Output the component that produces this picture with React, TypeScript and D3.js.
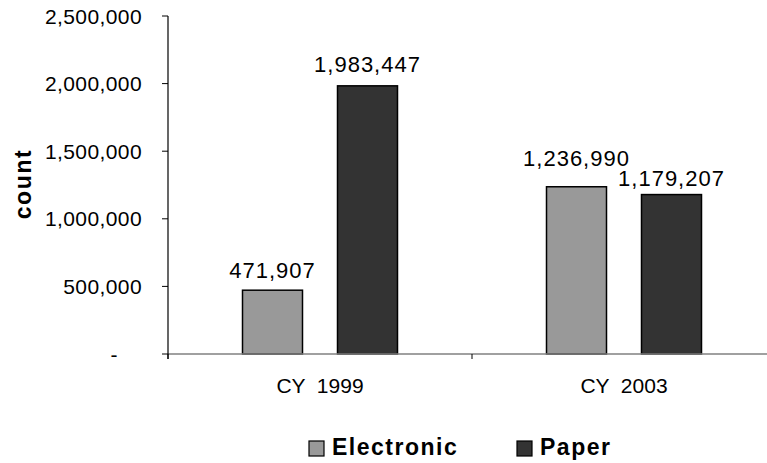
import React from "react";
import * as d3 from "d3";

const categories = ["CY  1999", "CY  2003"];
const seriesNames = ["Electronic", "Paper"];
const electronicValues = [471907, 1236990];
const paperValues = [1983447, 1179207];
const yTicks = [0, 500000, 1000000, 1500000, 2000000, 2500000];
const seriesColors = ["#999999", "#333333"];
// label gap above bar top per [series][category] (layout, avoids overlap as in the original)
const labelGaps = [
  [12, 21],
  [14, 9],
];

const W = 767;
const H = 463;
const left = 168;
const right = 776;
const top = 16;
const bottom = 354;

export default function App() {
  const x = d3.scaleBand<string>().domain(categories).range([left, right]).paddingInner(0).paddingOuter(0);
  const y = d3.scaleLinear().domain([0, 2500000]).range([bottom, top]);
  const barW = 60;
  const innerGap = 35;
  const fmt = d3.format(",");
  const series = [electronicValues, paperValues];
  const font = "Arial, 'Liberation Sans', Helvetica, sans-serif";

  return (
    <svg width={W} height={H} style={{ display: "block", position: "absolute", left: 0, top: 0 }} fontFamily={font}>
      <rect x={0} y={0} width={W} height={H} fill="#ffffff" />
      {yTicks.map((t) => (
        <g key={t}>
          <line x1={162} x2={168} y1={y(t)} y2={y(t)} stroke="#000" strokeWidth={1} />
          <text
            x={t === 0 ? 118 : 142}
            y={y(t)}
            dy="0.36em"
            textAnchor="end"
            fontSize={21}
            letterSpacing={0.4}
            fill="#000"
          >
            {t === 0 ? "-" : fmt(t)}
          </text>
        </g>
      ))}
      {categories.map((c, ci) => {
        const center = (x(c) as number) + x.bandwidth() / 2;
        return series.map((vals, si) => {
          const bx = center - innerGap / 2 - barW + si * (barW + innerGap);
          const v = vals[ci];
          return (
            <g key={c + si}>
              <rect
                x={bx}
                y={y(v)}
                width={barW}
                height={y(0) - y(v)}
                fill={seriesColors[si]}
                stroke="#000"
                strokeWidth={1.5}
              />
              <text
                x={bx + barW / 2}
                y={y(v) - labelGaps[si][ci]}
                textAnchor="middle"
                fontSize={22}
                letterSpacing={1}
                fill="#000"
              >
                {fmt(v)}
              </text>
            </g>
          );
        });
      })}
      <line x1={left} x2={W} y1={bottom} y2={bottom} stroke="#808080" strokeWidth={1.5} />
      {[left, x(categories[1]) as number].map((tx, i) => (
        <line key={i} x1={tx} x2={tx} y1={bottom} y2={bottom + 5} stroke="#000" strokeWidth={1} />
      ))}
      <line x1={left} x2={left} y1={top} y2={bottom + 5} stroke="#000" strokeWidth={1.2} />
      {categories.map((c) => (
        <text
          key={c}
          x={(x(c) as number) + x.bandwidth() / 2}
          y={393}
          textAnchor="middle"
          fontSize={21}
          fill="#000"
          style={{ whiteSpace: "pre" }}
        >
          {c}
        </text>
      ))}
      <text
        transform={`translate(31, 184) rotate(-90)`}
        textAnchor="middle"
        fontSize={23}
        fontWeight="bold"
        letterSpacing={1.6}
        fill="#000"
      >
        count
      </text>
      {seriesNames.map((n, i) => {
        const lx = i === 0 ? 309 : 517;
        return (
          <g key={n}>
            <rect x={lx} y={441} width={15} height={15} fill={seriesColors[i]} stroke="#000" strokeWidth={1.2} />
            <text x={lx + 23} y={455} fontSize={23} fontWeight="bold" letterSpacing={1.5} fill="#000">
              {n}
            </text>
          </g>
        );
      })}
    </svg>
  );
}
